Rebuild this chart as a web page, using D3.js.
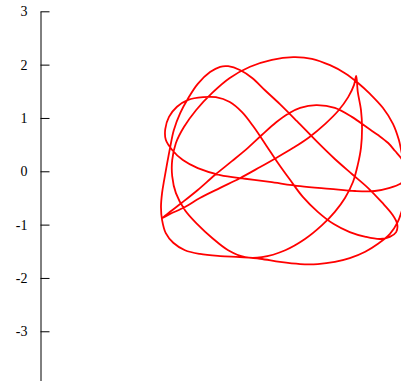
<!DOCTYPE html>
<html>
<head>
<meta charset="utf-8">
<script src="https://cdn.jsdelivr.net/npm/d3@7"></script>
<style>
  html, body { margin: 0; padding: 0; background: #fff; }
  svg { display: block; }
</style>
</head>
<body>
<svg id="chart" width="401" height="381"></svg>
<script>
// Closed parametric trajectory, sampled in plot units (x, y)
const curveX = [
  2.51, 2.45, 2.34, 2.21, 2.02, 1.83, 1.53, 1.21, 0.86, 0.56,
  0.35, 0.11, -0.16, -0.42, -0.72, -1.04, -1.36, -1.66, -1.88, -2.03,
  -1.88, -1.60, -1.32, -0.94, -0.57, -0.19, 0.11, 0.43, 0.73, 1.03,
  1.27, 1.46, 1.57, 1.61,
  1.64, 1.70, 1.72, 1.70, 1.64, 1.55, 1.40, 1.21, 0.97, 0.65,
  0.28, -0.16, -0.47, -0.79, -1.09, -1.37, -1.60, -1.77, -1.84, -1.84,
  -1.77, -1.62, -1.39, -1.09, -0.76, -0.38, 0.03, 0.43, 0.78, 1.12,
  1.40, 1.64, 1.87, 2.11, 2.30, 2.41, 2.47,
  2.54, 2.58, 2.54,
  2.47, 2.39, 2.24, 2.02, 1.78, 1.49, 1.21, 0.89, 0.56, 0.18,
  -0.19, -0.57, -0.94, -1.32, -1.60, -1.82, -1.96, -2.03, -2.05, -2.03,
  -1.99, -1.94, -1.88, -1.81, -1.69, -1.54, -1.36, -1.13, -0.94, -0.79,
  -0.57, -0.34, -0.10, 0.18, 0.50, 0.88, 1.21, 1.53, 1.83, 2.09,
  2.28, 2.38, 2.36, 2.24, 2.06, 1.79, 1.49, 1.19, 0.89, 0.61,
  0.37, 0.14, -0.08, -0.31, -0.53, -0.76, -1.02, -1.26, -1.54, -1.75,
  -1.90, -1.97, -1.96, -1.84, -1.64, -1.36, -0.94, -0.47, -0.01, 0.56,
  1.12, 1.59, 1.96, 2.24, 2.43, 2.56, 2.62, 2.58
];
const curveY = [
  0.16, 0.25, 0.38, 0.53, 0.68, 0.81, 1.02, 1.19, 1.24, 1.19,
  1.09, 0.92, 0.68, 0.44, 0.19, -0.07, -0.35, -0.59, -0.76, -0.88,
  -0.80, -0.67, -0.50, -0.31, -0.13, 0.08, 0.25, 0.44, 0.64, 0.89,
  1.13, 1.39, 1.62, 1.79,
  1.49, 1.15, 0.81, 0.44, 0.12, -0.20, -0.50, -0.76, -1.01, -1.27,
  -1.48, -1.61, -1.61, -1.48, -1.25, -0.99, -0.73, -0.41, -0.09, 0.21,
  0.53, 0.83, 1.15, 1.47, 1.75, 1.96, 2.09, 2.14, 2.11, 1.99,
  1.84, 1.66, 1.45, 1.19, 0.89, 0.59, 0.32,
  0.06, -0.22, -0.48,
  -0.73, -0.95, -1.18, -1.36, -1.51, -1.63, -1.70, -1.74, -1.74, -1.70,
  -1.64, -1.61, -1.59, -1.55, -1.48, -1.34, -1.16, -0.91, -0.67, -0.41,
  -0.16, 0.12, 0.44, 0.77, 1.09, 1.37, 1.64, 1.86, 1.96, 1.97,
  1.90, 1.75, 1.52, 1.26, 0.94, 0.55, 0.23, -0.05, -0.31, -0.58,
  -0.80, -0.99, -1.14, -1.23, -1.27, -1.23, -1.14, -0.99, -0.76, -0.48,
  -0.16, 0.16, 0.49, 0.83, 1.11, 1.30, 1.39, 1.39, 1.34, 1.21,
  1.02, 0.79, 0.59, 0.40, 0.21, 0.06, -0.07, -0.14, -0.20, -0.28,
  -0.33, -0.37, -0.37, -0.31, -0.24, -0.13, 0.02, 0.12
];
const yTicks = [3, 2, 1, 0, -1, -2, -3];
const yTickLabels = ["3", "2", "1", "0", "-1", "-2", "-3"];

const svg = d3.select("#chart");

const x = d3.scaleLinear().domain([-4.3, 2.7]).range([41, 414.3]);
const y = d3.scaleLinear().domain([-4, 3]).range([384.6, 11.3]);

// Left axis: ticks point into the plot, labels sit to the left
const axis = d3.axisLeft(y)
  .tickValues(yTicks)
  .tickFormat((d, i) => yTickLabels[i])
  .tickSizeInner(-9)
  .tickSizeOuter(0)
  .tickPadding(13);

const gAxis = svg.append("g")
  .attr("transform", "translate(40.5,0)")
  .call(axis);

gAxis.selectAll("path, line")
  .style("stroke", "#000")
  .style("stroke-width", "1");

gAxis.selectAll("text")
  .style("font-family", "'Liberation Serif', 'DejaVu Serif', serif")
  .style("font-size", "14px")
  .style("fill", "#000");

const pts = curveX.map((v, i) => [v, curveY[i]]);

const line = d3.line()
  .x(d => x(d[0]))
  .y(d => y(d[1]))
  .curve(d3.curveCatmullRomClosed.alpha(0.5));

svg.append("path")
  .datum(pts)
  .attr("fill", "none")
  .attr("stroke", "#ff0000")
  .attr("stroke-width", 1.8)
  .attr("stroke-linejoin", "round")
  .attr("d", line);
</script>
</body>
</html>
